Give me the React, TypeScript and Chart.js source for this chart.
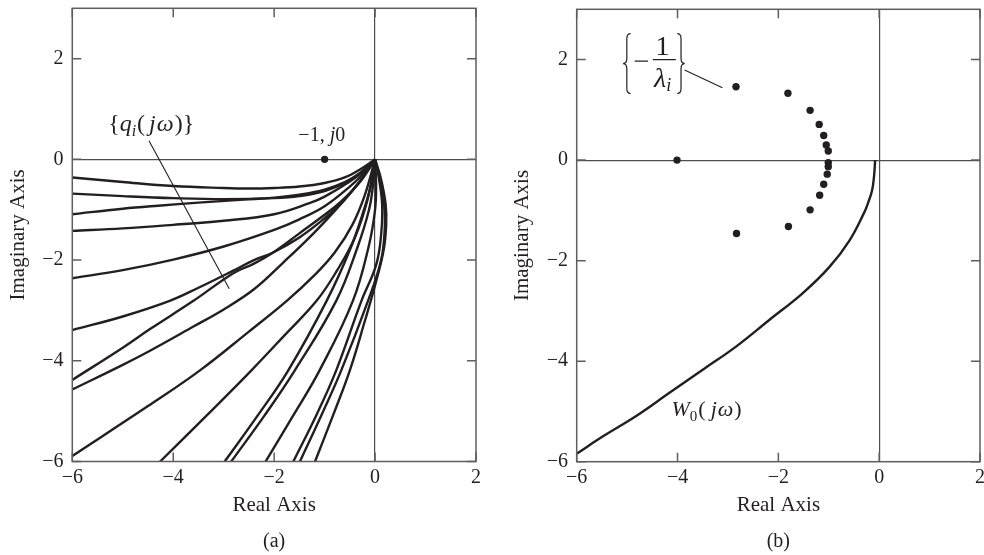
import React, { useEffect, useRef } from 'react';
import { Chart, registerables } from 'chart.js';

Chart.register(...registerables);

// ---------- axes ----------
const X_RANGE = [-6, 2];
const Y_RANGE = [-6, 3];
const X_TICKS = [-6, -4, -2, 0, 2];
const Y_TICKS = [-6, -4, -2, 0, 2];

// ---------- panel (a): family of Nyquist curves q_i(jw), [Re, Im] pairs ----------
const Q1 = [[0, 0], [-0.3, -0.2], [-0.6, -0.36], [-1, -0.47], [-1.5, -0.54], [-2, -0.57], [-2.5, -0.58], [-3, -0.57], [-4, -0.53], [-5, -0.45], [-6, -0.36]];
const Q2 = [[0, 0], [-0.25, -0.24], [-0.5, -0.42], [-1, -0.63], [-1.5, -0.73], [-2, -0.77], [-3, -0.79], [-4, -0.77], [-5, -0.73], [-6, -0.68]];
const Q3 = [[0, 0], [-0.3, -0.27], [-0.6, -0.45], [-1, -0.6], [-1.5, -0.7], [-2, -0.76], [-2.6, -0.8], [-3.5, -0.86], [-4.3, -0.92], [-5, -0.98], [-6, -1.09]];
const Q4 = [[0, 0], [-0.25, -0.25], [-0.5, -0.44], [-1, -0.74], [-1.3, -0.87], [-2, -1.09], [-3, -1.22], [-4, -1.3], [-5, -1.37], [-6, -1.42]];
const Q5 = [[0, 0], [-0.25, -0.3], [-0.5, -0.54], [-1, -0.93], [-1.5, -1.19], [-2, -1.4], [-3, -1.73], [-4, -1.99], [-5, -2.2], [-6, -2.36]];
const Q6 = [[0, 0], [-0.35, -0.5], [-0.7, -0.9], [-1, -1.17], [-1.5, -1.55], [-2.02, -1.85], [-2.4, -2.0], [-2.81, -2.21], [-3.5, -2.55], [-4.07, -2.81], [-5, -3.12], [-6, -3.39]];
const Q7 = [[0, 0], [-0.3, -0.45], [-0.7, -0.86], [-1, -1.1], [-1.5, -1.47], [-2.02, -1.85], [-2.4, -2.07], [-2.81, -2.26], [-3.6, -2.81], [-4.46, -3.37], [-5, -3.74], [-6, -4.38]];
const Q8 = [[0, 0], [-0.3, -0.43], [-0.6, -0.8], [-1.2, -1.45], [-1.82, -2.05], [-2.4, -2.58], [-3, -2.98], [-3.6, -3.32], [-4.46, -3.8], [-5, -4.08], [-6, -4.57]];
const Q9 = [[0, 0], [-0.2, -0.7], [-0.45, -1.3], [-0.8, -1.85], [-1.2, -2.3], [-1.75, -2.81], [-2.5, -3.42], [-3.47, -4.19], [-4.5, -4.9], [-6, -5.89]];
const Q10 = [[0, 0], [-0.15, -0.8], [-0.4, -1.55], [-0.75, -2.2], [-1.16, -2.81], [-1.8, -3.5], [-2.45, -4.19], [-3.3, -5.05], [-4.26, -6]];
const Q11 = [[0, 0], [-0.08, -0.5], [-0.22, -1], [-0.5, -1.8], [-0.96, -2.81], [-1.72, -4.19], [-2.3, -5.05], [-2.98, -6]];
const Q12 = [[0, 0], [-0.04, -0.5], [-0.12, -1], [-0.35, -1.75], [-0.77, -2.81], [-1.59, -4.19], [-2.2, -5.1], [-2.85, -6]];
const Q13 = [[0, 0], [0.02, -0.5], [0, -1], [-0.12, -1.7], [-0.44, -2.81], [-1.1, -4.19], [-1.6, -5.05], [-2.17, -6]];
const Q14 = [[0, 0], [0.08, -0.4], [0.14, -0.9], [0.12, -1.5], [0.02, -2.1], [-0.27, -2.81], [-0.77, -4.19], [-1.15, -5.05], [-1.62, -6]];
const Q15 = [[0, 0], [0.1, -0.4], [0.18, -0.9], [0.19, -1.4], [0.12, -2], [-0.14, -2.81], [-0.67, -4.19], [-1.05, -5.05], [-1.49, -6]];
const Q16 = [[0, 0], [0.12, -0.4], [0.21, -0.9], [0.22, -1.3], [0.17, -1.8], [0, -2.5], [-0.2, -3.2], [-0.5, -4.19], [-0.82, -5.05], [-1.19, -6]];
const Q_CURVES = [Q1, Q2, Q3, Q4, Q5, Q6, Q7, Q8, Q9, Q10, Q11, Q12, Q13, Q14, Q15, Q16];

const CRIT_POINT = [-1, 0];
const CRIT_LABEL = [-1.52, 0.36];
const Q_LABEL = [-5.29, 0.57];
const Q_LEADER = [[-4.48, 0.37], [-2.89, -2.57]];

// ---------- panel (b): -1/lambda_i points and W0(jw) ----------
const LAMBDA_RE = [-2.84, -1.81, -1.37, -1.19, -1.1, -1.05, -1.01, -4.01, -1.01, -1.01, -1.03, -1.1, -1.18, -1.37, -1.8, -2.83];
const LAMBDA_IM = [1.46, 1.33, 0.99, 0.71, 0.49, 0.3, 0.18, 0.0, -0.05, -0.13, -0.28, -0.48, -0.7, -0.99, -1.32, -1.46];
const W0_RE = [-0.08, -0.1, -0.14, -0.22, -0.3, -0.59, -0.99, -1.52, -2.18, -2.84, -3.5, -4.16, -4.82, -5.47, -6];
const W0_IM = [0, -0.3, -0.6, -0.85, -1.05, -1.6, -2.13, -2.65, -3.18, -3.71, -4.17, -4.63, -5.09, -5.49, -5.84];
const LAMBDA_LABEL = [-5.08, 1.92];
const LAMBDA_LEADER = [[-3.86, 1.79], [-3.11, 1.44]];
const W0_LABEL = [-4.12, -5.1];

// ---------- style ----------
const INK = '#231f20';
const FRAME = '#5e5e5e';
const ZERO = '#4d4d4d';
const FONT = '"Liberation Serif", "Times New Roman", serif';

const fmt = (v: any) => (Number(v) < 0 ? '\u2212' + Math.abs(Number(v)) : String(v));
const pts = (arr: number[][]) => arr.map(([x, y]) => ({ x, y }));

function rich(ctx: CanvasRenderingContext2D, x: number, y: number, parts: any[]) {
  let cx = x;
  for (const p of parts) {
    cx += p.dx || 0;
    ctx.font = `${p.italic ? 'italic ' : ''}${p.size}px ${FONT}`;
    ctx.fillText(p.t, cx, y + (p.dy || 0));
    cx += ctx.measureText(p.t).width;
  }
}

function brace(ctx: CanvasRenderingContext2D, xTip: number, yTop: number, yBot: number, w: number) {
  const yMid = (yTop + yBot) / 2;
  const xm = xTip + w / 2;
  const r = 5;
  ctx.beginPath();
  ctx.moveTo(xTip + w, yTop);
  ctx.quadraticCurveTo(xm, yTop, xm, yTop + r);
  ctx.lineTo(xm, yMid - r);
  ctx.quadraticCurveTo(xm, yMid, xTip, yMid);
  ctx.quadraticCurveTo(xm, yMid, xm, yMid + r);
  ctx.lineTo(xm, yBot - r);
  ctx.quadraticCurveTo(xm, yBot, xTip + w, yBot);
  ctx.stroke();
}

function drawFrame(chart: any) {
  const { ctx, chartArea: a, scales } = chart;
  const x = scales.x, y = scales.y;
  ctx.save();
  ctx.strokeStyle = FRAME;
  ctx.lineWidth = 1.5;
  ctx.strokeRect(a.left, a.top, a.right - a.left, a.bottom - a.top);
  const L = 9;
  ctx.beginPath();
  for (const v of X_TICKS) {
    const p = x.getPixelForValue(v);
    ctx.moveTo(p, a.bottom); ctx.lineTo(p, a.bottom - L);
    ctx.moveTo(p, a.top); ctx.lineTo(p, a.top + L);
  }
  for (const v of Y_TICKS) {
    const p = y.getPixelForValue(v);
    ctx.moveTo(a.left, p); ctx.lineTo(a.left + L, p);
    ctx.moveTo(a.right, p); ctx.lineTo(a.right - L, p);
  }
  ctx.stroke();
  ctx.restore();
}

function makeScales(yWidth: number, xHeight: number) {
  const tickFont = { family: FONT, size: 20 };
  const titleFont = { family: FONT, size: 21 };
  const grid = {
    color: (c: any) => (c.tick && c.tick.value === 0 ? ZERO : 'rgba(0,0,0,0)'),
    lineWidth: 1.2,
    drawTicks: false,
  };
  return {
    x: {
      type: 'linear',
      min: X_RANGE[0],
      max: X_RANGE[1],
      afterBuildTicks: (s: any) => { s.ticks = X_TICKS.map((v) => ({ value: v })); },
      afterFit: (s: any) => { s.height = xHeight; s.paddingLeft = 0; s.paddingRight = 0; },
      grid,
      border: { display: false },
      ticks: { font: tickFont, color: INK, padding: 4, maxRotation: 0, autoSkip: false, callback: fmt },
      title: { display: true, text: 'Real Axis', font: titleFont, color: INK, padding: { top: 0, bottom: 0 } },
    },
    y: {
      type: 'linear',
      min: Y_RANGE[0],
      max: Y_RANGE[1],
      afterBuildTicks: (s: any) => { s.ticks = Y_TICKS.map((v) => ({ value: v })); },
      afterFit: (s: any) => { s.width = yWidth; s.paddingTop = 0; s.paddingBottom = 0; },
      grid,
      border: { display: false },
      ticks: { font: tickFont, color: INK, padding: 8.7, autoSkip: false, callback: fmt },
      title: { display: true, text: 'Imaginary Axis', font: titleFont, color: INK, padding: { top: 5.9, bottom: 0 } },
    },
  };
}

const lineDs = (data: any, width = 2.4, tension = 0.4) => ({
  data,
  showLine: true,
  borderColor: INK,
  backgroundColor: INK,
  borderWidth: width,
  pointRadius: 0,
  tension,
  fill: false,
});

function leftConfig(): any {
  const datasets: any[] = Q_CURVES.map((c) => lineDs(pts(c)));
  datasets.push(lineDs(pts(Q_LEADER), 1.1, 0));
  datasets.push({
    data: [{ x: CRIT_POINT[0], y: CRIT_POINT[1] }],
    pointRadius: 3.7,
    pointBackgroundColor: INK,
    pointBorderWidth: 0,
    showLine: false,
  });
  return {
    type: 'scatter',
    data: { datasets },
    options: {
      responsive: false,
      animation: false,
      layout: { padding: { left: 0, top: 8.3, right: 16, bottom: 37 } },
      plugins: { legend: { display: false }, tooltip: { enabled: false } },
      scales: makeScales(72.3, 56.5),
    },
    plugins: [{
      id: 'annotA',
      afterDatasetsDraw(chart: any) {
        drawFrame(chart);
        const { ctx, chartArea: a, scales: { x, y } } = chart;
        ctx.save();
        ctx.fillStyle = INK;
        ctx.textAlign = 'left';
        ctx.textBaseline = 'alphabetic';
        rich(ctx, x.getPixelForValue(Q_LABEL[0]), y.getPixelForValue(Q_LABEL[1]), [
          { t: '{', size: 24 },
          { t: 'q', size: 24, italic: true },
          { t: 'i', size: 16, italic: true, dy: 5 },
          { t: '(', size: 24, dx: 1 },
          { t: 'j', size: 24, italic: true, dx: 4 },
          { t: '\u03c9', size: 24, italic: true, dx: 1 },
          { t: ')', size: 24, dx: 1 },
          { t: '}', size: 24 },
        ]);
        rich(ctx, x.getPixelForValue(CRIT_LABEL[0]), y.getPixelForValue(CRIT_LABEL[1]), [
          { t: '\u22121, ', size: 20 },
          { t: 'j', size: 20, italic: true },
          { t: '0', size: 20 },
        ]);
        ctx.textAlign = 'center';
        ctx.font = `20px ${FONT}`;
        ctx.fillText('(a)', (a.left + a.right) / 2, 547);
        ctx.restore();
      },
    }],
  };
}

function rightConfig(): any {
  const datasets: any[] = [
    lineDs(W0_RE.map((v, i) => ({ x: v, y: W0_IM[i] })), 2.4, 0.4),
    lineDs(pts(LAMBDA_LEADER), 1.1, 0),
    {
      data: LAMBDA_RE.map((v, i) => ({ x: v, y: LAMBDA_IM[i] })),
      pointRadius: 3.7,
      pointBackgroundColor: INK,
      pointBorderWidth: 0,
      showLine: false,
    },
  ];
  return {
    type: 'scatter',
    data: { datasets },
    options: {
      responsive: false,
      animation: false,
      layout: { padding: { left: 12, top: 9.3, right: 2.7, bottom: 37 } },
      plugins: { legend: { display: false }, tooltip: { enabled: false } },
      scales: makeScales(72.7, 56.3),
    },
    plugins: [{
      id: 'annotB',
      afterDatasetsDraw(chart: any) {
        drawFrame(chart);
        const { ctx, chartArea: a, scales: { x, y } } = chart;
        ctx.save();
        ctx.fillStyle = INK;
        ctx.strokeStyle = INK;
        ctx.textBaseline = 'alphabetic';
        // {-1/lambda_i}
        const bx = x.getPixelForValue(LAMBDA_LABEL[0]);
        const by = y.getPixelForValue(LAMBDA_LABEL[1]);
        ctx.lineWidth = 1.2;
        brace(ctx, bx, by - 30, by + 30, 7.5);
        brace(ctx, bx + 61.7, by - 30, by + 30, -7.5);
        ctx.beginPath();
        ctx.moveTo(bx + 11.7, by - 2.4); ctx.lineTo(bx + 25, by - 2.4);
        ctx.moveTo(bx + 29.7, by - 4); ctx.lineTo(bx + 52.7, by - 4);
        ctx.stroke();
        ctx.textAlign = 'center';
        ctx.font = `28px ${FONT}`;
        ctx.fillText('1', bx + 39.5, by - 9);
        ctx.textAlign = 'left';
        rich(ctx, bx + 31, by + 23.3, [
          { t: '\u03bb', size: 28, italic: true },
          { t: 'i', size: 18, italic: true, dy: 4.5 },
        ]);
        // W0(jw)
        rich(ctx, x.getPixelForValue(W0_LABEL[0]), y.getPixelForValue(W0_LABEL[1]), [
          { t: 'W', size: 22, italic: true },
          { t: '0', size: 15, dy: 5 },
          { t: '(', size: 22, dx: 1 },
          { t: 'j', size: 22, italic: true, dx: 5 },
          { t: '\u03c9', size: 22, italic: true, dx: 1 },
          { t: ')', size: 22, dx: 1 },
        ]);
        ctx.textAlign = 'center';
        ctx.font = `20px ${FONT}`;
        ctx.fillText('(b)', (a.left + a.right) / 2, 547);
        ctx.restore();
      },
    }],
  };
}

export default function App() {
  const leftRef = useRef<HTMLCanvasElement>(null);
  const rightRef = useRef<HTMLCanvasElement>(null);
  useEffect(() => {
    const c1 = new Chart(leftRef.current as HTMLCanvasElement, leftConfig());
    const c2 = new Chart(rightRef.current as HTMLCanvasElement, rightConfig());
    return () => { c1.destroy(); c2.destroy(); };
  }, []);
  return (
    <div style={{ position: 'fixed', left: 0, top: 0, width: 984, height: 555, background: '#fff', overflow: 'hidden' }}>
      <canvas ref={leftRef} width={492} height={555} style={{ position: 'absolute', left: 0, top: 0, width: 492, height: 555 }} />
      <canvas ref={rightRef} width={492} height={555} style={{ position: 'absolute', left: 492, top: 0, width: 492, height: 555 }} />
    </div>
  );
}
